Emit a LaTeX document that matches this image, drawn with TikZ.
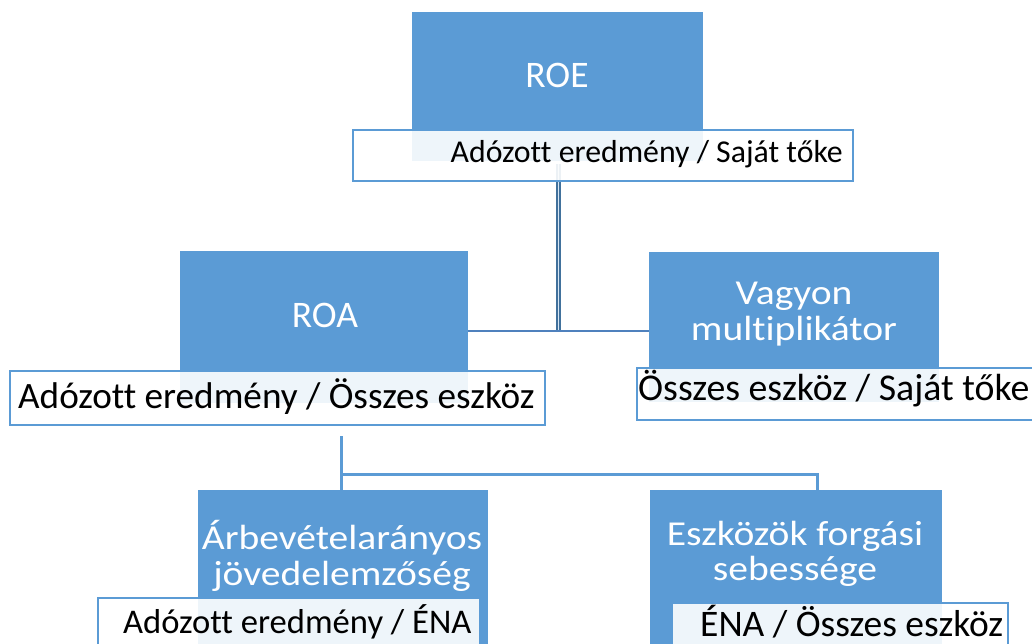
\documentclass[tikz,border=0pt]{standalone}
\usepackage{fontspec}
\usepackage{graphicx}
\setmainfont{Carlito}[Ligatures=NoCommon]
\definecolor{boxblue}{HTML}{5B9BD5}
\definecolor{lineblue}{HTML}{4F81BD}
\definecolor{darkline}{HTML}{41719C}
% slightly widened title lines
\newcommand{\wideline}[1]{\scalebox{1.13}[1]{#1}}
\tikzset{
  box/.style={fill=boxblue, draw=none, inner sep=0pt, anchor=north west},
  labelbox/.style={draw=boxblue, line width=2pt, fill=white, fill opacity=0.9, inner sep=0pt, anchor=north west},
  titletext/.style={text=white, inner sep=0pt, align=center, font=\fontsize{37.5}{35}\selectfont},
  twoline/.style={titletext, font=\fontsize{35}{35.5}\selectfont},
  labeltext/.style={text=black, inner sep=0pt},
  trunk/.style={draw=darkline, line width=2pt, double=white!75!boxblue, double distance=1.6pt},
  branch/.style={draw=lineblue, line width=2.6pt},
  lowbranch/.style={draw=boxblue, line width=3pt},
}
\begin{document}
\begin{tikzpicture}[x=1pt, y=-1pt]
  \useasboundingbox (0,0) rectangle (1032,644);
  \clip (0,0) rectangle (1032,644);

  % junction points of the connectors
  \coordinate (j1top) at (558.5,164);
  \coordinate (j1) at (558.5,331);
  \coordinate (j2top) at (341,436);
  \coordinate (j2) at (341,474);
  \coordinate (j3) at (817,474);

  % coloured boxes
  \node[box, minimum width=291pt, minimum height=149pt] (roe) at (412,12) {};
  \node[box, minimum width=288pt, minimum height=152pt] (roa) at (180,251) {};
  \node[box, minimum width=290pt, minimum height=150pt] (vag) at (649,252) {};
  \node[box, minimum width=290pt, minimum height=200pt] (arb) at (198,490) {};
  \node[box, minimum width=292pt, minimum height=200pt] (esz) at (650,490) {};

  % connectors
  \draw[trunk] (j1top) -- (j1);
  \draw[branch] (roa.east |- j1) -- (vag.west |- j1);
  \draw[lowbranch] (j2top) -- (j2top |- arb.north);
  \draw[lowbranch] (j2) -- (j3) -- (j3 |- esz.north);

  % box titles
  \node[titletext] (roet) at (557,75) {ROE};
  \node[titletext] (roat) at (325,315) {ROA};
  \node[twoline] (vagt) at (794,314) {\wideline{Vagyon}\\\wideline{multiplikátor}};
  \node[twoline] (arbt) at (342,556) {\wideline{Árbevételarányos}\\\wideline{jövedelemzőség}};
  \node[twoline] (eszt) at (795,554) {\wideline{Eszközök forgási}\\\wideline{sebessége}};

  % formula boxes
  \node[labelbox, minimum width=500pt, minimum height=51pt] (roel) at (352,129) {};
  \node[labelbox, minimum width=535pt, minimum height=54pt] (roal) at (9,370) {};
  \node[labelbox, minimum width=420pt, minimum height=52pt] (vagl) at (636,367) {};
  \node[labelbox, minimum width=382pt, minimum height=80pt] (arbl) at (97,597) {};
  \node[labelbox, minimum width=336pt, minimum height=80pt] (eszl) at (671,602) {};

  % formula texts
  \node[labeltext, anchor=base east, font=\fontsize{31.8}{32}\selectfont] (roelt) at (843,163) {Adózott eredmény / Saját tőke};
  \node[labeltext, anchor=base west, font=\fontsize{37.2}{37}\selectfont] (roalt) at (18,408) {Adózott eredmény / Összes eszköz};
  \node[labeltext, anchor=base west, font=\fontsize{37.8}{37}\selectfont] (vaglt) at (638,400) {Összes eszköz / Saját tőke};
  \node[labeltext, anchor=base west, font=\fontsize{34.6}{35}\selectfont] (arblt) at (123,633) {Adózott eredmény / ÉNA};
  \node[labeltext, anchor=base west, font=\fontsize{37.5}{37}\selectfont] (eszlt) at (700,636) {ÉNA / Összes eszköz};
\end{tikzpicture}
\end{document}
